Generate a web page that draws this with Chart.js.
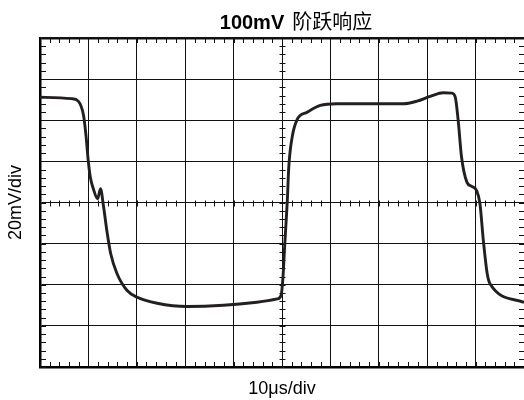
<!DOCTYPE html>
<html>
<head>
<meta charset="utf-8">
<script src="https://cdn.jsdelivr.net/npm/chart.js@4.4.1/dist/chart.umd.min.js"></script>
<style>
  html, body { margin: 0; padding: 0; background: #fff; }
  #wrap { width: 524px; height: 400px; position: relative; }
</style>
</head>
<body>
<div id="wrap"><canvas id="scope"></canvas></div>
<script>
// Waveform: time in us (10us/div), voltage in mV (20mV/div)
const timeUs = [0, 6.5, 7.9, 9.0, 9.5, 10.0, 10.4, 11.0, 11.9, 12.5, 13.1, 13.9, 14.6, 15.9, 18.0,
    20.1, 24.2, 30.4, 37.9, 44.8, 49.0, 49.8, 50.2, 50.5, 50.9, 51.1, 51.4, 52.1, 53.1, 55.2,
    57.9, 61.3, 68.2, 75.1, 77.9, 80.6, 83.3, 85.1, 85.8, 86.4, 87.1, 88.2, 89.2, 90.2, 90.9,
    91.6, 92.4, 93.0, 100];
const voltMv = [51.2, 50.5, 49.3, 42.3, 32.6, 19.6, 12.3, 6.8, 1.8, 6.7, -1.5, -15.1, -24.8, -34.5, -42.8,
    -46.1, -49.0, -50.6, -50.0, -48.5, -46.9, -45.3, -36.4, -23.4, -7.2, 1.0, 17.2, 31.8, 40.2, 43.9,
    47.2, 48.0, 48.0, 48.0, 49.3, 51.6, 53.4, 53.2, 51.2, 39.9, 22.0, 9.9, 7.8, 5.8, -0.6,
    -18.5, -34.7, -39.6, -48.6];

const titleBold = "100mV";
const titleRest = "阶跃响应";
const xLabel = "10μs/div";
const yLabel = "20mV/div";

const X_MIN = 0, X_MAX = 100, X_DIV = 10;
const Y_MIN = -80, Y_MAX = 80, Y_DIV = 20;

// minor ticks along the frame and the centre crosshair, like a scope graticule
const graticule = {
    id: "graticule",
    beforeDatasetsDraw(chart) {
        const { ctx, chartArea: a, scales: { x, y } } = chart;
        const cx = Math.round(x.getPixelForValue((X_MIN + X_MAX) / 2)) + 0.5;
        const cy = Math.round(y.getPixelForValue((Y_MIN + Y_MAX) / 2)) + 0.5;
        ctx.save();
        ctx.strokeStyle = "#111";
        ctx.lineWidth = 1;
        ctx.beginPath();
        for (let v = X_MIN; v <= X_MAX; v += X_DIV / 5) {
            const px = Math.round(x.getPixelForValue(v)) + 0.5;
            ctx.moveTo(px, a.top); ctx.lineTo(px, a.top + 5);
            ctx.moveTo(px, a.bottom); ctx.lineTo(px, a.bottom - 5);
            ctx.moveTo(px, cy - 3); ctx.lineTo(px, cy + 3);
        }
        for (let v = Y_MIN; v <= Y_MAX; v += Y_DIV / 5) {
            const py = Math.round(y.getPixelForValue(v)) + 0.5;
            ctx.moveTo(a.left, py); ctx.lineTo(a.left + 6, py);
            ctx.moveTo(a.right, py); ctx.lineTo(a.right - 5, py);
            ctx.moveTo(cx - 3, py); ctx.lineTo(cx + 3, py);
        }
        ctx.stroke();
        ctx.restore();
    },
    afterDraw(chart) {
        const ctx = chart.ctx;
        ctx.save();
        ctx.fillStyle = "#000";
        ctx.textBaseline = "alphabetic";
        ctx.font = 'bold 20px "Liberation Sans", Arial, sans-serif';
        const w1 = ctx.measureText(titleBold).width;
        ctx.font = '20px "Noto Sans CJK SC", sans-serif';
        const w2 = ctx.measureText(titleRest).width;
        const gap = 8;
        let x0 = 296 - (w1 + gap + w2) / 2;
        ctx.font = 'bold 20px "Liberation Sans", Arial, sans-serif';
        ctx.fillText(titleBold, x0, 29);
        ctx.font = '20px "Noto Sans CJK SC", sans-serif';
        ctx.fillText(titleRest, x0 + w1 + gap, 29);
        ctx.restore();
    }
};

const ctx = document.getElementById("scope").getContext("2d");

new Chart(ctx, {
    type: "line",
    data: {
        datasets: [{
            data: timeUs.map((t, i) => ({ x: t, y: voltMv[i] })),
            borderColor: "#231f20",
            borderWidth: 2.9,
            pointRadius: 0,
            fill: false,
            cubicInterpolationMode: "monotone",
        }],
    },
    plugins: [graticule],
    options: {
        responsive: true,
        maintainAspectRatio: false,
        animation: false,
        layout: { padding: { top: 38, right: 0, left: 0, bottom: 0 } },
        plugins: {
            legend: { display: false },
            title: { display: false },
            tooltip: { enabled: false },
        },
        scales: {
            x: {
                type: "linear",
                min: X_MIN,
                max: X_MAX,
                ticks: { display: false, stepSize: X_DIV },
                grid: { color: "#111", lineWidth: 1, drawTicks: false },
                border: { display: true, color: "#000", width: 2.5 },
                title: {
                    display: true,
                    text: xLabel,
                    color: "#000",
                    font: { family: '"Liberation Sans", Arial, sans-serif', size: 18 },
                    padding: 0,
                },
                afterFit(scale) { scale.height = 33; },
            },
            y: {
                min: Y_MIN,
                max: Y_MAX,
                ticks: { display: false, stepSize: Y_DIV },
                grid: {
                    color: "#111",
                    lineWidth: (c) => (c.tick && c.tick.value === Y_MAX ? 2.5 : 1),
                    drawTicks: false,
                },
                border: { display: true, color: "#000", width: 2.5 },
                title: {
                    display: true,
                    text: yLabel,
                    color: "#000",
                    font: { family: '"Liberation Sans", Arial, sans-serif', size: 18 },
                    padding: { top: 5, bottom: 0 },
                },
                afterFit(scale) { scale.width = 40; },
            },
        },
    },
});
</script>
</body>
</html>
